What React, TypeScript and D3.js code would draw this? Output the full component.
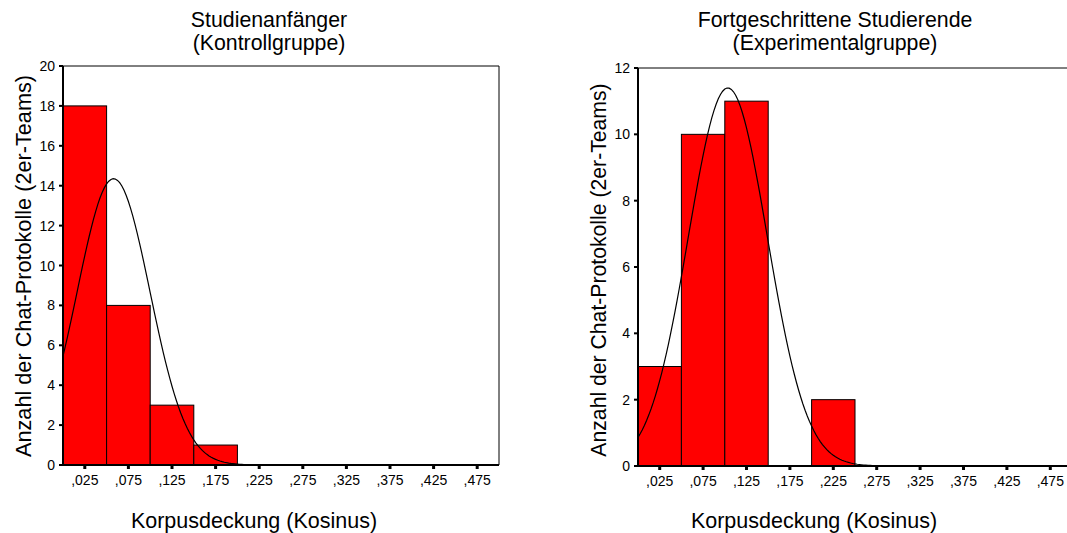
import { useEffect, useRef } from "react"
import * as d3 from "d3"

// bin edges (Korpusdeckung), shared by both histograms
const binStarts = [0, 0.05, 0.1, 0.15, 0.2, 0.25, 0.3, 0.35, 0.4, 0.45]
const tickLabels = [",025", ",075", ",125", ",175", ",225", ",275", ",325", ",375", ",425", ",475"]

// counts per bin
const kontrollCounts = [18, 8, 3, 1, 0, 0, 0, 0, 0, 0]
const experimentCounts = [3, 10, 11, 0, 2, 0, 0, 0, 0, 0]

// fitted normal curve parameters (mean, sd, n)
const kontrollFit = [0.058, 0.0417, 30]
const experimentFit = [0.1035, 0.0455, 26]

const yLabel = "Anzahl der Chat-Protokolle (2er-Teams)"
const xLabel = "Korpusdeckung (Kosinus)"

const font = "'Liberation Sans', Arial, sans-serif"

function drawHist(svg, opts) {
  const { left, right, top, bottom, yMax, yTicks, counts, fit, title, titleX, labelX, yLabX, yLabSize } = opts
  const g = svg.append("g")
  const x = d3.scaleLinear().domain([0, 0.5]).range([left, right])
  const y = d3.scaleLinear().domain([0, yMax]).range([bottom, top])
  const binW = 0.05

  // frame top & right
  g.append("path")
    .attr("d", `M${left},${top}H${right}V${bottom}`)
    .attr("fill", "none").attr("stroke", "#000").attr("stroke-width", 1)

  g.selectAll("rect.bar")
    .data(counts.map((c, i) => ({ c, x0: binStarts[i] })).filter(d => d.c > 0))
    .join("rect")
    .attr("x", d => x(d.x0))
    .attr("width", d => x(d.x0 + binW) - x(d.x0))
    .attr("y", d => y(d.c))
    .attr("height", d => y(0) - y(d.c))
    .attr("fill", "#ff0000")
    .attr("stroke", "#000")
    .attr("stroke-width", 1)

  // normal curve
  const [mu, sd, n] = fit
  const xs = d3.range(0, 0.5001, 0.0025)
  const pdf = v => n * binW * Math.exp(-((v - mu) ** 2) / (2 * sd * sd)) / (sd * Math.sqrt(2 * Math.PI))
  g.append("path")
    .datum(xs)
    .attr("d", d3.line().x(v => x(v)).y(v => y(pdf(v))))
    .attr("fill", "none").attr("stroke", "#000").attr("stroke-width", 1.2)

  // axes
  g.append("line").attr("x1", left).attr("x2", left).attr("y1", top).attr("y2", bottom)
    .attr("stroke", "#000").attr("stroke-width", 2)
  g.append("line").attr("x1", left - 3).attr("x2", right).attr("y1", bottom).attr("y2", bottom)
    .attr("stroke", "#000").attr("stroke-width", 2)

  const yt = d3.range(0, yMax + 0.1, yTicks)
  g.selectAll("rect.yt").data(yt).join("rect")
    .attr("x", left - 4).attr("y", d => y(d) - 1).attr("width", 4).attr("height", 2).attr("fill", "#000")
  g.selectAll("text.yt").data(yt).join("text")
    .attr("x", left - 8).attr("y", d => y(d) + 5)
    .attr("text-anchor", "end").attr("font-size", 14).attr("font-family", font)
    .text(d => d)

  g.selectAll("rect.xt").data(binStarts).join("rect")
    .attr("x", d => x(d + binW / 2) - 1.5).attr("y", bottom + 1).attr("width", 3).attr("height", 3).attr("fill", "#000")
  g.selectAll("text.xt").data(binStarts).join("text")
    .attr("x", d => x(d + binW / 2)).attr("y", bottom + 20)
    .attr("text-anchor", "middle").attr("font-size", 14).attr("font-family", font)
    .text((d, i) => tickLabels[i])

  g.selectAll("text.title").data(title).join("text")
    .attr("x", titleX).attr("y", (d, i) => 27 + i * 23)
    .attr("text-anchor", "middle").attr("font-size", 21.3).attr("font-family", font)
    .text(d => d)

  g.append("text")
    .attr("x", labelX).attr("y", 528)
    .attr("text-anchor", "middle").attr("font-size", 21.5).attr("font-family", font)
    .text(xLabel)

  g.append("text")
    .attr("transform", `translate(${yLabX},${opts.yLabY}) rotate(-90)`)
    .attr("text-anchor", "middle").attr("font-size", yLabSize).attr("font-family", font)
    .text(yLabel)
}

export default function App() {
  const ref = useRef(null)
  useEffect(() => {
    const svg = d3.select(ref.current)
    svg.selectAll("*").remove()
    drawHist(svg, {
      left: 63, right: 499, top: 66, bottom: 465, yMax: 20, yTicks: 2,
      counts: kontrollCounts, fit: kontrollFit,
      title: ["Studienanfänger", "(Kontrollgruppe)"], titleX: 269, labelX: 254,
      yLabX: 31, yLabY: 266, yLabSize: 21.7
    })
    drawHist(svg, {
      left: 638, right: 1072, top: 68, bottom: 466, yMax: 12, yTicks: 2,
      counts: experimentCounts, fit: experimentFit,
      title: ["Fortgeschrittene Studierende", "(Experimentalgruppe)"], titleX: 835, labelX: 814,
      yLabX: 606, yLabY: 270, yLabSize: 21.2
    })
  }, [])
  return (
    <svg ref={ref} width={1067} height={533}
      style={{ position: "absolute", left: 0, top: 0, background: "#fff" }} />
  )
}
